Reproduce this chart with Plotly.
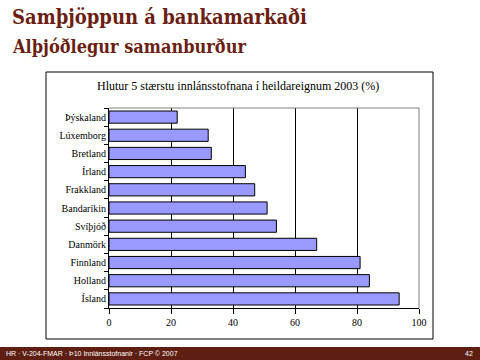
import plotly.graph_objects as go

countries = ["Þýskaland", "Lúxemborg", "Bretland", "Írland", "Frakkland", "Bandaríkin",
             "Svíþjóð", "Danmörk", "Finnland", "Holland", "Ísland"]
values = [22, 32, 33, 44, 47, 51, 54, 67, 81, 84, 93.6]
x_ticks = [0, 20, 40, 60, 80, 100]

W, H = 480, 360
L, R, T, B = 109, 61, 108, 52
pw, ph = W - L - R, H - T - B

def px(x):
    return (x - L) / pw

def py(y):
    return (H - B - y) / ph

dark = "#6B1E12"
serif = "Liberation Serif, Times New Roman, serif"
head = "DejaVu Serif Condensed, DejaVu Serif, serif"

fig = go.Figure(go.Bar(
    x=values, y=countries, orientation="h",
    marker=dict(color="#9999FF", line=dict(color="black", width=1)),
    hoverinfo="skip",
))

fig.update_layout(
    width=W, height=H,
    margin=dict(l=L, r=R, t=T, b=B, autoexpand=False),
    paper_bgcolor="white", plot_bgcolor="white",
    showlegend=False, bargap=0.33,
    font=dict(family=serif, size=10, color="black"),
    xaxis=dict(range=[0, 100], tickvals=x_ticks, ticks="outside", ticklen=5,
               tickcolor="black", showline=True, linecolor="black", linewidth=1,
               showgrid=True, gridcolor="black", gridwidth=1, zeroline=False,
               automargin=False, tickfont=dict(family=serif, size=10)),
    yaxis=dict(categoryorder="array", categoryarray=countries[::-1],
               ticks="outside", ticklen=4, tickcolor="black", tickson="boundaries",
               showline=True, linecolor="black", linewidth=1, showgrid=False,
               automargin=False, tickfont=dict(family=serif, size=10)),
    shapes=[
        dict(type="line", xref="paper", yref="paper", x0=0, x1=1, y0=1, y1=1,
             line=dict(color="#808080", width=1)),
        dict(type="line", xref="paper", yref="paper", x0=1, x1=1, y0=0, y1=1,
             line=dict(color="#808080", width=1)),
        dict(type="rect", xref="paper", yref="paper", x0=px(46), x1=px(433),
             y0=py(339), y1=py(72), line=dict(color="black", width=1)),
        dict(type="rect", xref="paper", yref="paper", x0=px(0), x1=px(480),
             y0=py(360), y1=py(347), line=dict(width=0), fillcolor="#5E1E12"),
    ],
    annotations=[
        dict(text="<b>Samþjöppun á bankamarkaði</b>", xref="paper", yref="paper",
             x=px(10), y=py(3), xanchor="left", yanchor="top", showarrow=False,
             font=dict(family=head, size=20, color=dark)),
        dict(text="<b>Alþjóðlegur samanburður</b>", xref="paper", yref="paper",
             x=px(10), y=py(34), xanchor="left", yanchor="top", showarrow=False,
             font=dict(family=head, size=18, color=dark)),
        dict(text="Hlutur 5 stærstu innlánsstofnana í heildareignum 2003 (%)",
             xref="paper", yref="paper", x=px(238), y=py(86), xanchor="center",
             yanchor="middle", showarrow=False,
             font=dict(family=serif, size=12, color="black")),
        dict(text="HR · V-204-FMAR · Þ10 Innlánsstofnanir · FCP © 2007",
             xref="paper", yref="paper", x=px(4), y=py(353.5), xanchor="left",
             yanchor="middle", showarrow=False,
             font=dict(family="Liberation Sans", size=7, color="white")),
        dict(text="42", xref="paper", yref="paper", x=px(475), y=py(353.5),
             xanchor="right", yanchor="middle", showarrow=False,
             font=dict(family="Liberation Sans", size=7, color="white")),
    ],
)

fig.write_html("out.html", config={"displayModeBar": False},
               post_script="document.body.style.margin='0';")
